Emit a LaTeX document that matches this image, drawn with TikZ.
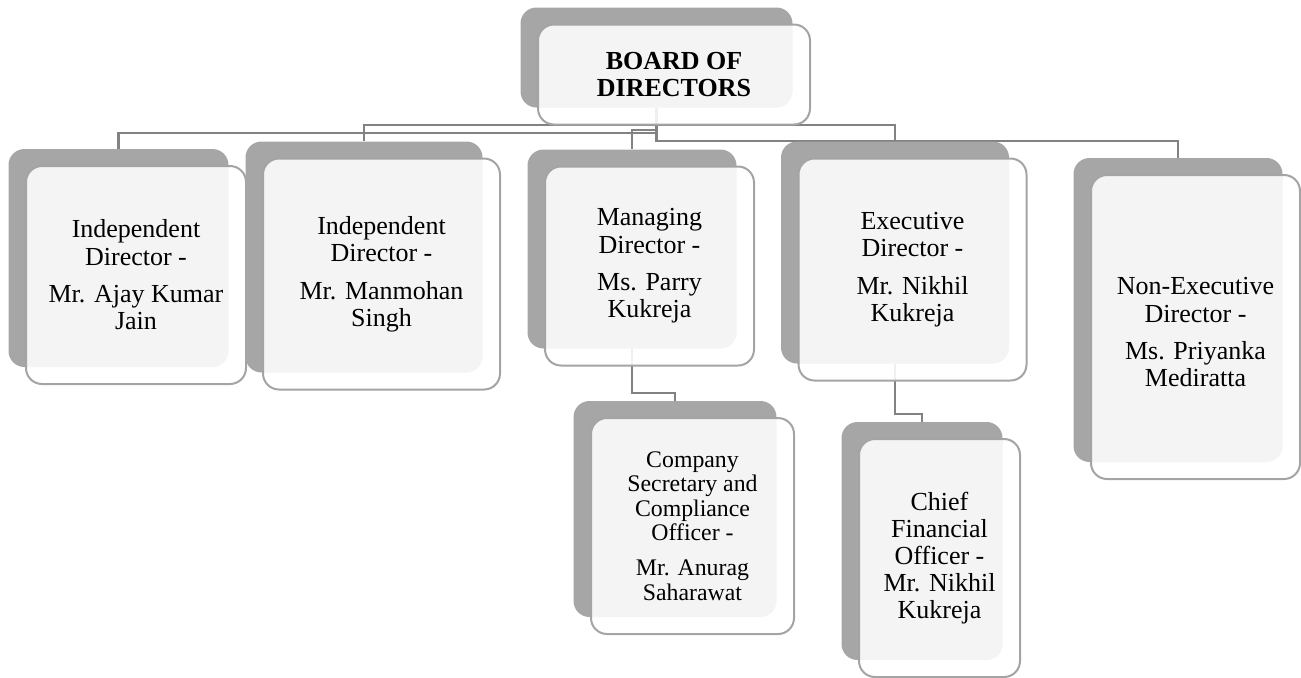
\documentclass[tikz,border=0pt]{standalone}
\usepackage{fontspec}
\setmainfont{Liberation Serif}
\pgfdeclarelayer{bg}
\pgfsetlayers{bg,main}
\definecolor{backgray}{HTML}{A6A6A6}
\definecolor{edgegray}{HTML}{A4A4A4}
\definecolor{linegray}{HTML}{828282}
\tikzset{
  backbox/.style={draw=none, fill=backgray, rounded corners=8pt, inner sep=0pt},
  frontbox/.style={draw=edgegray, line width=1pt, fill=white, fill opacity=0.88,
    text opacity=1, rounded corners=8pt, inner sep=0pt, align=center,
    font=\fontsize{13}{13.6}\selectfont},
  conn/.style={draw=linegray, line width=1.1pt},
}
\newcommand\orgbox[7]{%
  \node[backbox, minimum width={#4*0.5pt}, minimum height={#5*0.5pt}] (#1B) at (#2,#3) {};
  \node[frontbox, minimum width={#4*0.5pt}, minimum height={#5*0.5pt}, #6] (#1) at ({#2+17.5},{#3+17}) {#7};
}
\begin{document}
\begin{tikzpicture}[x=0.5pt,y=-0.5pt]
\useasboundingbox (0,0) rectangle (1301,677);

\orgbox{bod}{656.5}{57.5}{272}{100}{font=\fontsize{13}{13.35}\selectfont\bfseries}{BOARD OF\\DIRECTORS}
\orgbox{ida}{118.5}{258}{220}{218}{}{Independent\\Director -\\[5.2pt]Mr. Ajay Kumar\\Jain}
\orgbox{idm}{364}{257}{237}{231}{}{Independent\\Director -\\[5.2pt]Mr. Manmohan\\Singh}
\orgbox{md}{632}{249}{209}{199}{}{Managing\\Director -\\[5.2pt]Ms. Parry\\Kukreja}
\orgbox{ed}{895}{252.5}{228}{222}{}{Executive\\Director -\\[5.2pt]Mr. Nikhil\\Kukreja}
\orgbox{ned}{1178}{310}{209}{304}{}{\rule{0pt}{14pt}Non-Executive\\Director -\\[5.2pt]Ms. Priyanka\\Mediratta}
\orgbox{cs}{675}{509}{203}{216}{font=\fontsize{11.9}{12.2}\selectfont}{Company\\Secretary and\\Compliance\\Officer -\\[5.3pt]Mr. Anurag\\Saharawat}
\orgbox{cfo}{922}{541}{161}{238}{}{Chief\\Financial\\Officer -\\Mr. Nikhil\\Kukreja}

\begin{pgfonlayer}{bg}
\draw[conn] (bodB.south) |- ([yshift=8pt]idaB.north) -- (idaB.north);
\draw[conn] (bodB.south) |- ([yshift=8.25pt]idmB.north) -- (idmB.north);
\draw[conn] (bodB.south) |- ([yshift=9.75pt]mdB.north) -- (mdB.north);
\draw[conn] (bodB.south) |- ([yshift=8.25pt]edB.north) -- (edB.north);
\draw[conn] (bodB.south) |- ([yshift=8.25pt]nedB.north) -- (nedB.north);
\draw[conn] (mdB.south) |- ([yshift=4pt]csB.north) -- (csB.north);
\draw[conn] (edB.south) |- ([yshift=4pt]cfoB.north) -- (cfoB.north);
\end{pgfonlayer}
\end{tikzpicture}
\end{document}
